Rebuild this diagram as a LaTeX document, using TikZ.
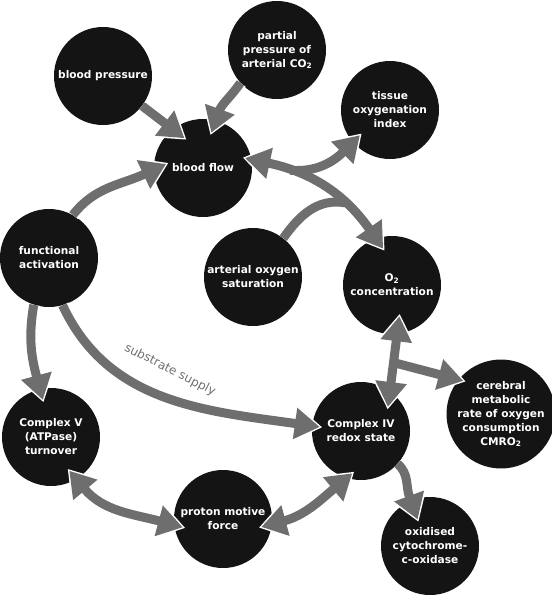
\documentclass[tikz,border=0pt]{standalone}
\usepackage{fontspec}
\setmainfont{DejaVu Sans}
\usetikzlibrary{arrows.meta}
\definecolor{blobfill}{HTML}{141414}
\definecolor{linkgray}{HTML}{6E6E6E}

\begin{document}
\begin{tikzpicture}[
  x=1pt, y=-1pt,
  blob/.style={circle, fill=blobfill, text=white, minimum size=98pt, inner sep=0pt,
    align=center, font=\bfseries\fontsize{10.6}{14}\selectfont},
  wire/.style={draw=linkgray, line width=9pt, >={Triangle[width=30pt,length=25pt]}},
  halo/.style={draw=white, line width=13pt, >={Triangle[width=37pt,length=30pt]}},
  sinkend/.style={shorten >=-#1pt-\ex pt},
  sinkstart/.style={shorten <=-#1pt-\ex pt},
  lbl/.style={text=linkgray, font=\fontsize{12}{14}\selectfont}
]
\useasboundingbox (0,0) rectangle (552,595);

% circles
\node[blob] (bp)   at (103,76)  {blood pressure};
\node[blob] (co2)  at (277,50)  {partial\\pressure of\\arterial CO\textsubscript{2}};
\node[blob] (toi)  at (390,110) {tissue\\oxygenation\\index};
\node[blob] (bf)   at (203,168) {blood flow};
\node[blob] (fa)   at (49,258)  {functional\\activation};
\node[blob] (sat)  at (253,277) {arterial oxygen\\saturation};
\node[blob] (o2)   at (392,285) {O\textsubscript{2}\\concentration};
\node[blob] (cv)   at (51,437)  {Complex V\\(ATPase)\\turnover};
\node[blob] (civ)  at (361,431) {Complex IV\\redox state};
\node[blob] (cmr)  at (501,414) {cerebral\\metabolic\\rate of oxygen\\consumption\\CMRO\textsubscript{2}};
\node[blob] (pmf)  at (223,519) {proton motive\\force};
\node[blob] (ox)   at (430,546) {oxidised\\cytochrome-\\c-oxidase};

% connectors: white halo first, then grey on top
\foreach \st/\ex in {halo/2.5, wire/0} {
  \draw[\st, ->, sinkend=14.8] (bp) -- (bf.128);
  \draw[\st, ->, sinkend=13] (co2.222) to[out=235, in=70] (bf.75);
  \draw[\st, ->, sinkend=13.6] (fa.61) to[out=52, in=205] (bf.182);
  \draw[\st, <->, sinkstart=6.5, sinkend=12.5] (bf.10) to[out=-12, in=125]
    coordinate[pos=.25] (split) coordinate[pos=.7] (merge) (o2.109);
  \draw[\st, ->, sinkend=10] (split) to[out=-5, in=225] (toi.221);
  \draw[\st] (sat.52) to[out=55, in=170] (merge);
  \draw[\st, ->, sinkend=11.2] (fa.252) to[out=260, in=105] (cv.103);
  \draw[\st, ->, sinkend=7.8] (fa.-74) to[out=-65, in=172] (civ.174);
  \draw[\st, <->, sinkstart=17.8, sinkend=15.9] (o2.-84) -- coordinate[pos=.5] (fork) (civ.54);
  \draw[\st, ->, sinkend=5] (fork) -- (cmr.141);
  \draw[\st, <->, sinkstart=11, sinkend=9] (cv.-59) to[out=-50, in=165] (pmf.187);
  \draw[\st, <->, sinkstart=11, sinkend=7.4] (pmf.-6) to[out=15, in=220] (civ.253);
  \draw[\st, ->, sinkend=20] (civ.-42) to[out=-40, in=110] (ox.113);
}
\node[lbl, rotate=-27] (supply) at (170,370) {substrate supply};
\end{tikzpicture}
\end{document}
